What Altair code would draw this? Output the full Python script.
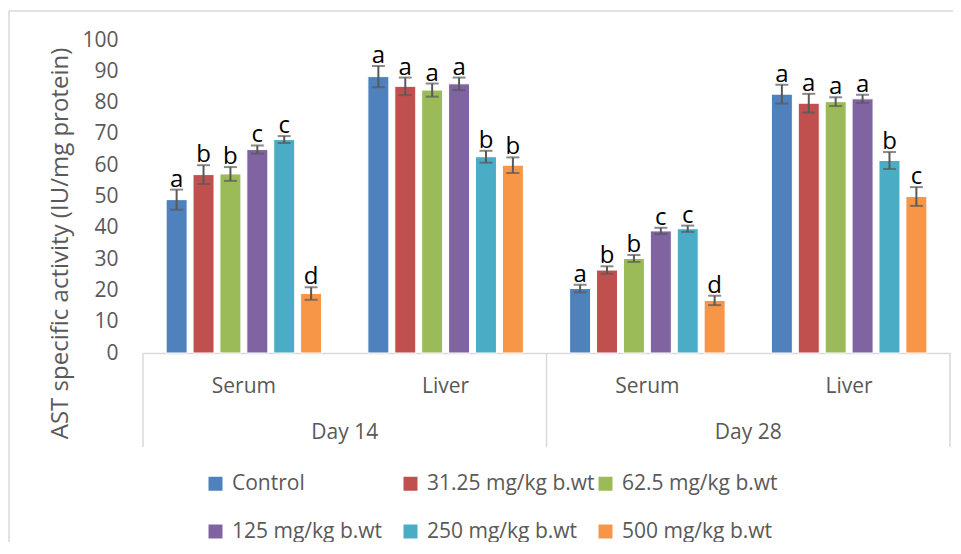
import altair as alt
import pandas as pd

# ---- data ----
groups = ["Day 14|Serum", "Day 14|Liver", "Day 28|Serum", "Day 28|Liver"]
doses = ["Control", "31.25 mg/kg b.wt", "62.5 mg/kg b.wt",
         "125 mg/kg b.wt", "250 mg/kg b.wt", "500 mg/kg b.wt"]
colors = ["#4F81BD", "#C0504D", "#9BBB59", "#8064A2", "#4BACC6", "#F79646"]

d14_serum = [49.0, 57.0, 57.2, 65.0, 68.2, 19.0]
d14_liver = [88.3, 85.2, 84.0, 86.0, 62.7, 60.0]
d28_serum = [20.6, 26.5, 30.2, 39.0, 39.7, 16.8]
d28_liver = [82.7, 79.8, 80.3, 81.2, 61.5, 50.0]

d14_serum_err = [3.2, 3.0, 2.2, 1.3, 1.1, 2.0]
d14_liver_err = [3.4, 2.8, 2.1, 2.0, 1.9, 2.5]
d28_serum_err = [1.2, 1.2, 1.1, 1.0, 1.0, 1.5]
d28_liver_err = [3.0, 3.0, 1.4, 1.3, 2.7, 3.0]

d14_serum_let = ["a", "b", "b", "c", "c", "d"]
d14_liver_let = ["a", "a", "a", "a", "b", "b"]
d28_serum_let = ["a", "b", "b", "c", "c", "d"]
d28_liver_let = ["a", "a", "a", "a", "b", "c"]

days = ["Day 14", "Day 28"]
day_pos = [1, 3]          # centre of each day, in category units
sep_pos = [0, 2, 4]       # boundaries between days, in category units

y_ticks = list(range(0, 101, 10))

# ---- table ----
rows = []
for g, m, e, l in zip(groups,
                      [d14_serum, d14_liver, d28_serum, d28_liver],
                      [d14_serum_err, d14_liver_err, d28_serum_err, d28_liver_err],
                      [d14_serum_let, d14_liver_let, d28_serum_let, d28_liver_let]):
    for d, mv, ev, lv in zip(doses, m, e, l):
        rows.append(dict(group=g, dose=d, mean=mv, lo=mv - ev, hi=mv + ev, letter=lv))
df = pd.DataFrame(rows)
day_df = pd.DataFrame({"pos": day_pos, "label": days})
sep_df = pd.DataFrame({"pos": sep_pos})
one = pd.DataFrame({"k": [0]})

GREY = "#595959"
LINE = "#D9D9D9"
FONT = "Open Sans"

x_enc = alt.X("group:N", sort=groups,
              scale=alt.Scale(paddingInner=0.2, paddingOuter=0.1),
              axis=alt.Axis(title=None, labelExpr="split(datum.label, '|')[1]",
                            ticks=False, domainColor=LINE, domainWidth=1.5,
                            labelPadding=33, labelBaseline="middle", labelAngle=0,
                            labelFontSize=21, labelColor=GREY, labelFont=FONT))
xo_enc = alt.XOffset("dose:N", sort=doses,
                     scale=alt.Scale(paddingInner=0.22, paddingOuter=0.11))
y_axis = alt.Axis(values=y_ticks, title="AST specific activity (IU/mg protein)",
                  grid=False, domain=False, ticks=False, tickSize=0, labelPadding=25,
                  labelFontSize=21, labelColor=GREY, labelFont=FONT,
                  titleFontSize=24, titleColor=GREY, titleFont=FONT,
                  titleFontWeight="normal", titleX=-83, titleY=203,
                  titleAngle=270, titleAlign="center", titleBaseline="middle")
y_scale = alt.Scale(domain=[0, 100])

color_enc = alt.Color("dose:N", sort=doses,
                      scale=alt.Scale(domain=doses, range=colors),
                      legend=alt.Legend(title=None, orient="none", legendX=62, legendY=433,
                                        columns=3, symbolType="square", symbolSize=196,
                                        symbolStrokeWidth=0, labelFontSize=21,
                                        labelColor=GREY, labelFont=FONT,
                                        columnPadding=0, rowPadding=26, gridAlign="all",
                                        labelOffset=6, labelLimit=400,
                                        direction="horizontal"))

base = alt.Chart(df)
bars = base.mark_bar(stroke="white", strokeWidth=1).encode(
    x=x_enc, xOffset=xo_enc,
    y=alt.Y("mean:Q", scale=y_scale, axis=y_axis),
    color=color_enc)
err = base.mark_rule(color=GREY, strokeWidth=2).encode(
    x=x_enc, xOffset=xo_enc,
    y=alt.Y("lo:Q", scale=y_scale, axis=y_axis), y2="hi:Q")
cap_lo = base.mark_tick(color=GREY, thickness=2, size=13).encode(
    x=x_enc, xOffset=xo_enc, y=alt.Y("lo:Q", scale=y_scale, axis=y_axis))
cap_hi = base.mark_tick(color=GREY, thickness=2, size=13).encode(
    x=x_enc, xOffset=xo_enc, y=alt.Y("hi:Q", scale=y_scale, axis=y_axis))
letters = base.mark_text(font=FONT, fontSize=24, color="black",
                         baseline="alphabetic", dy=-3).encode(
    x=x_enc, xOffset=xo_enc, y=alt.Y("hi:Q", scale=y_scale, axis=y_axis),
    text="letter:N")

inner = alt.layer(bars, err, cap_lo, cap_hi, letters)

pos_x = alt.X("pos:Q", scale=alt.Scale(domain=[0, 4]), axis=None)
seps = alt.Chart(sep_df).mark_rule(color=LINE, strokeWidth=1.5).encode(
    x=pos_x, y=alt.value(313), y2=alt.value(407))
day_text = alt.Chart(day_df).mark_text(font=FONT, fontSize=21, color=GREY,
                                       baseline="middle").encode(
    x=pos_x, y=alt.value(393), text="label:N")

frame_left = alt.Chart(one).mark_rule(color=LINE, strokeWidth=1.5).encode(
    x=alt.value(-134), y=alt.value(-29), y2=alt.value(600))
frame_top = alt.Chart(one).mark_rule(color=LINE, strokeWidth=1.5).encode(
    x=alt.value(-134), x2=alt.value(900), y=alt.value(-29))

chart = alt.layer(inner, seps, day_text, frame_left, frame_top).resolve_scale(
    x="independent"
).properties(
    width=807, height=313,
    padding={"left": 135, "top": 32, "right": 3, "bottom": 189},
    autosize=alt.AutoSizeParams(type="none"),
    background="white",
).configure_view(stroke=None)

chart.save("out.html", embed_options={"renderer": "svg", "actions": False})
